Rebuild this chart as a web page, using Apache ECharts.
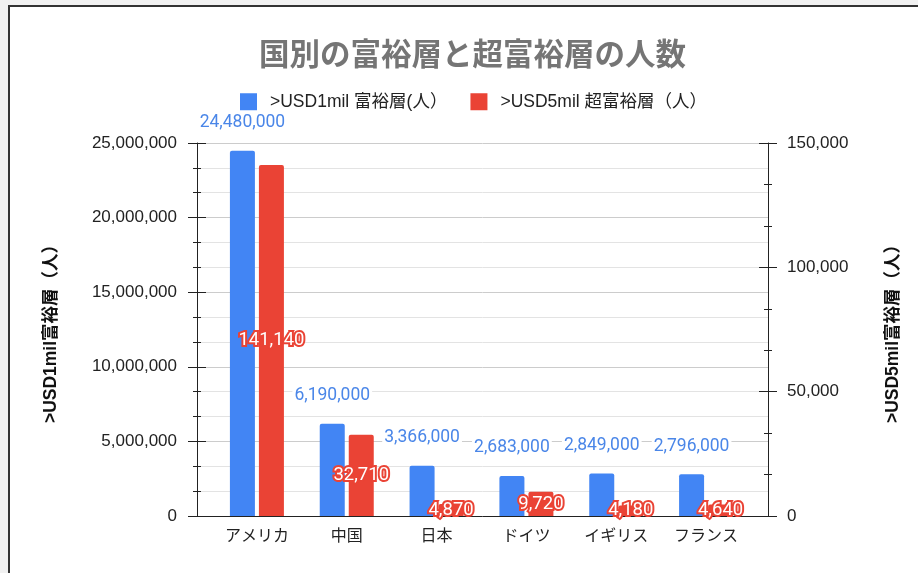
<!DOCTYPE html>
<html>
<head>
<meta charset="utf-8">
<script src="https://cdn.jsdelivr.net/npm/echarts@6/dist/echarts.min.js"></script>
<style>
  html, body { margin: 0; padding: 0; background: #f1f1f1; overflow: hidden; }
  #frame { position: absolute; left: 8px; top: 5px; width: 1000px; height: 700px; background: #fff; border: 2px solid #333; }
  #chart { position: absolute; left: 0; top: 0; width: 918px; height: 573px; }
</style>
</head>
<body>
<div id="frame"></div>
<div id="chart"></div>
<script>
var categories = ['アメリカ', '中国', '日本', 'ドイツ', 'イギリス', 'フランス'];
var richCount = [24480000, 6190000, 3366000, 2683000, 2849000, 2796000];
var ultraCount = [141140, 32710, 4870, 9720, 4180, 4640];
var seriesNames = ['>USD1mil 富裕層(人）', '>USD5mil 超富裕層（人）'];
var leftName = '>USD1mil富裕層（人）';
var rightName = '>USD5mil富裕層（人）';

var jp = '"Noto Sans CJK JP", "Noto Sans", sans-serif';
var latin = '"Liberation Sans", "Noto Sans CJK JP", Arial, sans-serif';
var fmt = function (v) { return Number(v).toLocaleString('en-US'); };

var chart = echarts.init(document.getElementById('chart'), null, { renderer: 'canvas' });

// y axis with ticks that cross the axis line: one axis ticks outside, twin ticks inside
function yAx(grid, pos, max, iv, inside, extra) {
    var a = {
        type: 'value', gridIndex: grid, position: pos, min: 0, max: max, interval: iv,
        axisLine: { show: !inside, lineStyle: { color: '#222', width: 1 } },
        axisTick: { show: true, inside: inside, length: 9, lineStyle: { color: '#222' } },
        minorTick: { show: true, splitNumber: 3, length: 4, lineStyle: { color: '#222' } },
        axisLabel: { show: false },
        splitLine: { show: false }
    };
    return Object.assign(a, extra || {});
}

var option = {
    animation: false,
    title: {
        text: '国別の富裕層と超富裕層の人数',
        left: 254, top: 33,
        textStyle: { fontFamily: jp, fontSize: 30.5, fontWeight: 'bold', color: '#757575' }
    },
    legend: {
        top: 93, left: 240, padding: 0,
        itemWidth: 17, itemHeight: 17, itemGap: 23, icon: 'rect',
        textStyle: { fontFamily: latin, fontSize: 17.5, color: '#222', padding: [0, 0, 0, 8] },
        data: seriesNames
    },
    grid: [
        { left: 197, right: 150, top: 143, bottom: 57 },
        { left: 212, right: 167, top: 143, bottom: 57 }
    ],
    xAxis: [
        { type: 'value', gridIndex: 0, min: 0, max: 1,
          axisLine: { show: true, lineStyle: { color: '#222' } },
          axisTick: { show: false }, axisLabel: { show: false }, splitLine: { show: false } },
        { type: 'category', gridIndex: 1, data: categories,
          axisLine: { show: false }, axisTick: { show: false },
          axisLabel: { fontFamily: jp, fontSize: 16, color: '#222', margin: 11 } }
    ],
    yAxis: [
        yAx(0, 'left', 25000000, 5000000, false, {
            axisLabel: { show: true, formatter: fmt, fontFamily: latin, fontSize: 17, color: '#222', margin: 20 },
            splitLine: { show: true, lineStyle: { color: '#cccccc' } },
            minorSplitLine: { show: true, lineStyle: { color: '#e3e3e3' } },
            name: leftName, nameLocation: 'middle', nameRotate: 90, nameGap: 137,
            nameTextStyle: { fontFamily: latin, fontSize: 17.5, fontWeight: 'bold', color: '#111' }
        }),
        yAx(0, 'left', 25000000, 5000000, true),
        yAx(0, 'right', 150000, 50000, false, {
            axisLabel: { show: true, formatter: fmt, fontFamily: latin, fontSize: 17, color: '#222', margin: 19 },
            name: rightName, nameLocation: 'middle', nameRotate: 90, nameGap: 116,
            nameTextStyle: { fontFamily: latin, fontSize: 17.5, fontWeight: 'bold', color: '#111' }
        }),
        yAx(0, 'right', 150000, 50000, true),
        { type: 'value', gridIndex: 1, min: 0, max: 25000000, show: false },
        { type: 'value', gridIndex: 1, min: 0, max: 150000, show: false }
    ],
    series: [
        {
            name: seriesNames[0], type: 'bar', xAxisIndex: 1, yAxisIndex: 4,
            data: richCount, barWidth: 25, barGap: '16%',
            itemStyle: { color: '#4285F4', borderRadius: [2, 2, 0, 0] },
            label: {
                show: true, position: 'top', distance: 19, formatter: function (p) { return fmt(p.value); },
                fontFamily: 'Roboto, sans-serif', fontSize: 17.5, color: '#4a86e8',
                backgroundColor: '#fff', padding: [0, 2]
            }
        },
        {
            name: seriesNames[1], type: 'bar', xAxisIndex: 1, yAxisIndex: 5,
            data: ultraCount, barWidth: 25,
            itemStyle: { color: '#EA4335', borderRadius: [2, 2, 0, 0] },
            label: {
                show: true, position: 'inside', formatter: function (p) { return fmt(p.value); },
                fontFamily: 'Roboto, sans-serif', fontSize: 18.5, color: '#fff',
                textBorderColor: '#EA4335', textBorderWidth: 4
            }
        }
    ]
};

chart.setOption(option);
</script>
</body>
</html>
